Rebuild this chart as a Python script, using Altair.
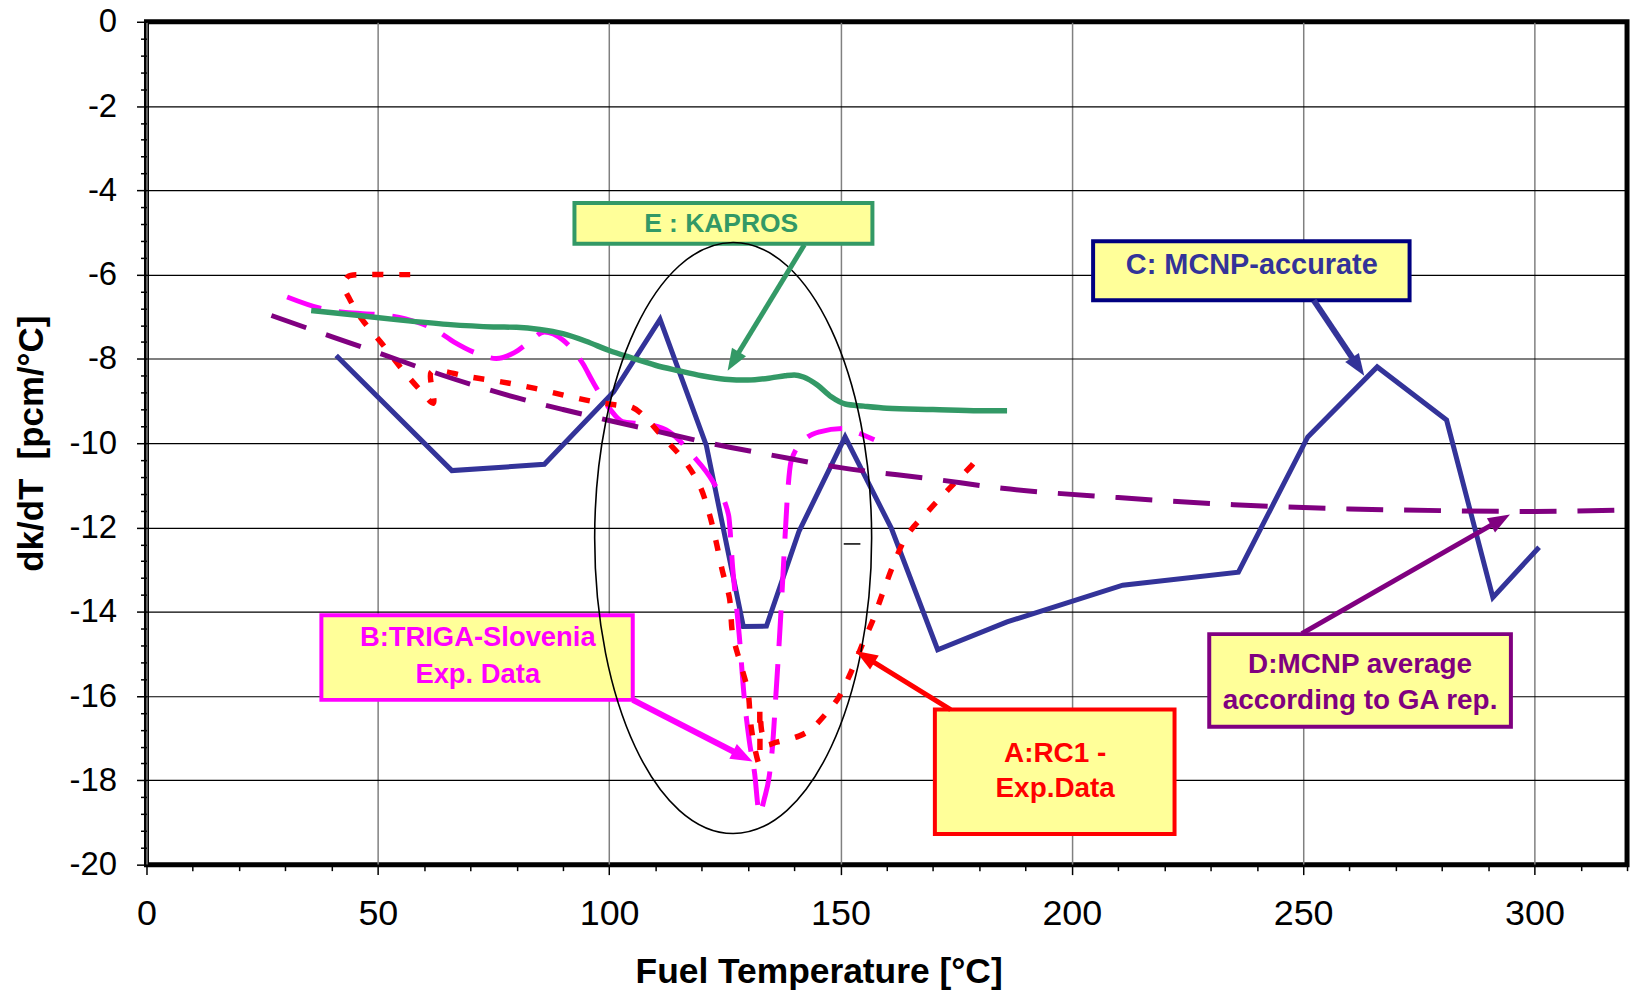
import math
import altair as alt
import pandas as pd

# ---------------- data ----------------
# A: RC1 - Exp. Data (path order, red dotted)
a_x = [57, 52, 47, 43.5, 42.8, 44, 46.5, 51, 55.5, 59.5, 62, 61.5, 63, 70, 77, 84, 91, 97, 102, 105, 107.5,
       111, 116, 119.5, 121.7, 123.1, 124.5, 126, 126.7, 128.3, 130, 130.6, 131.6, 132.4, 132.6, 133, 134,
       136, 141, 143.5, 147, 149.5, 152, 155, 157, 159.5, 162, 164.5, 169.2, 173.9, 178.1, 179.6, 181.6]
a_y = [-6.0, -6.0, -6.0, -6.05, -6.3, -6.6, -7.05, -7.65, -8.28, -8.78, -9.05, -8.32, -8.28, -8.43, -8.55,
       -8.7, -8.88, -9.02, -9.1, -9.15, -9.35, -9.78, -10.38, -10.99, -11.7, -12.33, -13.04, -13.67, -14.54,
       -15.2, -15.9, -16.65, -17.3, -17.6, -16.3, -16.85, -17.15, -17.1, -16.95, -16.8, -16.4, -16.05, -15.5,
       -14.7, -14.2, -13.44, -12.73, -12.17, -11.58, -11.03, -10.56, -10.4, -10.48]

# B: TRIGA-Slovenia Exp. Data (magenta dashed)
b_x = [30.4, 38, 43, 50.4, 56, 62.6, 66.5, 71, 75.6, 79.5, 82.5, 86, 90, 94.3, 96.5, 100.1, 102.9, 105.8,
       108.7, 113, 118, 122.4, 125.8, 126.7, 128.1, 129.2, 130.3, 131.4, 132.5, 133.5, 134.6, 135.3, 136,
       137.1, 137.8, 138.6, 139.3, 141.8, 145.5, 150.5, 154.1, 157.3]
b_y = [-6.53, -6.81, -6.9, -6.95, -7.05, -7.32, -7.6, -7.85, -7.99, -7.85, -7.62, -7.36, -7.55, -8.11, -8.55,
       -9.18, -9.49, -9.53, -9.56, -9.73, -10.28, -10.91, -11.7, -12.96, -14.54, -16.04, -17.07, -17.8,
       -18.8, -18.45, -17.9, -17.2, -16.04, -14.07, -12.65, -11.15, -10.44, -9.96, -9.73, -9.65, -9.77, -9.92]

# C: MCNP-accurate (navy solid)
c_x = [41, 66, 86, 101, 111, 121, 129, 134, 141, 151, 161, 171, 186, 211, 236, 251, 266, 281, 291, 301]
c_y = [-7.92, -10.65, -10.5, -8.78, -7.06, -10.05, -14.35, -14.34, -12.1, -9.85, -12.02, -14.9, -14.24,
       -13.37, -13.06, -9.85, -8.19, -9.45, -13.66, -12.47]

# D: MCNP average according to GA rep. (purple long dash)
d_x = [27, 40, 50, 60, 70, 80, 90, 100, 110, 120, 135, 150, 170, 185, 210, 235, 260, 280, 300, 320]
d_y = [-6.97, -7.47, -7.85, -8.24, -8.6, -8.92, -9.2, -9.46, -9.71, -9.96, -10.28, -10.58, -10.85, -11.07,
       -11.29, -11.46, -11.56, -11.6, -11.62, -11.58]

# E: KAPROS (green solid)
e_x = [35.6, 45, 55, 65, 75, 80, 85, 90, 95, 100, 105, 110, 115, 120, 125, 130, 135, 138, 140, 142, 145,
       148, 151, 155, 160, 170, 180, 186]
e_y = [-6.85, -6.96, -7.08, -7.18, -7.24, -7.25, -7.3, -7.4, -7.58, -7.8, -7.98, -8.15, -8.28, -8.4, -8.48,
       -8.5, -8.45, -8.4, -8.38, -8.43, -8.62, -8.9, -9.07, -9.12, -9.17, -9.2, -9.23, -9.23]

x_major = [0, 50, 100, 150, 200, 250, 300]
y_major = [0, -2, -4, -6, -8, -10, -12, -14, -16, -18, -20]
x_ticks = [v * 10 for v in range(0, 33)]
y_ticks = [round(-0.4 * i, 1) for i in range(0, 51)]

# annotation boxes (data units)
box_names = ["E", "C", "B", "A", "D"]
box_x1 = [92.5, 204.6, 37.8, 170.4, 229.7]
box_x2 = [156.9, 273.0, 105.1, 222.2, 294.9]
box_y1 = [-4.30, -5.21, -14.08, -16.32, -14.53]
box_y2 = [-5.27, -6.61, -16.09, -19.27, -16.73]
box_stroke = ["#339966", "#000080", "#FF00FF", "#FF0000", "#800080"]

text_lines = ["E : KAPROS", "C: MCNP-accurate", "B:TRIGA-Slovenia", "Exp. Data", "A:RC1 -", "Exp.Data",
              "D:MCNP average", "according to GA rep."]
text_x = [124.2, 238.9, 71.6, 71.6, 196.4, 196.4, 262.3, 262.3]
text_y = [-4.80, -5.78, -14.62, -15.50, -17.38, -18.20, -15.27, -16.12]
text_color = ["#339966", "#333399", "#FF00FF", "#FF00FF", "#FF0000", "#FF0000", "#800080", "#800080"]
text_size = [26.5, 29, 27.5, 27.5, 28, 28, 28, 28]

# arrows: tail -> tip (data units)
arr_x0 = [142.2, 252.3, 105.1, 173.8, 249.7]
arr_y0 = [-5.29, -6.61, -16.09, -16.32, -14.52]
arr_x1 = [125.6, 263.2, 131.0, 153.3, 294.7]
arr_y1 = [-8.28, -8.40, -17.55, -14.93, -11.69]
arr_color = ["#339966", "#333399", "#FF00FF", "#FF0000", "#800080"]
arr_width = [5, 6, 6, 5, 5]

# ellipse annotation
ell_cx = [126.8]
ell_cy = [-12.25]

# stray small dash
dash_x1 = [150.7]
dash_x2 = [154.3]
dash_y = [-12.39]

# ---------------- geometry ----------------
W, H = 1486, 846
XMAX = 320
PX = W / XMAX
PY = H / 20.0

def series(xs, ys):
    return pd.DataFrame({"x": xs, "y": ys, "i": list(range(len(xs)))})

df_a = series(a_x, a_y)
df_b = series(b_x, b_y)
df_c = series(c_x, c_y)
df_d = series(d_x, d_y)
df_e = series(e_x, e_y)

rows = []
for x0, y0, x1, y1, col, w in zip(arr_x0, arr_y0, arr_x1, arr_y1, arr_color, arr_width):
    dxp = (x1 - x0) * PX
    dyp = -(y1 - y0) * PY
    L = math.hypot(dxp, dyp)
    ux, uy = dxp / L, dyp / L
    back = 14
    xs = x1 - ux * back / PX
    ys = y1 + uy * back / PY
    ang = math.degrees(math.atan2(ux, -uy)) % 360
    rows.append({"x0": x0, "y0": y0, "xs": xs, "ys": ys, "x1": x1, "y1": y1, "color": col, "w": w, "ang": ang})
df_arr = pd.DataFrame(rows)

df_box = pd.DataFrame({"name": box_names, "x1": box_x1, "x2": box_x2, "y1": box_y1, "y2": box_y2,
                       "stroke": box_stroke})
df_text = pd.DataFrame({"t": text_lines, "x": text_x, "y": text_y, "color": text_color, "size": text_size})
df_ell = pd.DataFrame({"x": ell_cx, "y": ell_cy})
df_dash = pd.DataFrame({"x": dash_x1, "x2": dash_x2, "y": dash_y})

FONT = "Liberation Sans"

xscale = alt.Scale(domain=[0, XMAX], nice=False, zero=False)
yscale = alt.Scale(domain=[-20, 0], nice=False, zero=False)

x_axis = alt.Axis(
    values=x_ticks,
    labelExpr="datum.value % 50 === 0 && datum.value <= 300 ? toString(datum.value) : ''",
    tickSize={"condition": {"test": "datum.value % 50 === 0", "value": 10}, "value": 6},
    gridOpacity={"condition": {"test": "datum.value % 50 === 0 && datum.value < 320", "value": 1}, "value": 0},
    gridColor="#808080", gridWidth=1.5,
    tickColor="black", tickWidth=1.5,
    domain=False, labelFlush=False, labelOverlap=False,
    labelFont=FONT, labelFontSize=36, labelColor="black", labelPadding=22,
    title="Fuel Temperature [°C]", titleFont=FONT, titleFontSize=35.5, titleFontWeight="bold",
    titleColor="black", titleX=674.6, titleY=107, titleAlign="center", titleBaseline="middle",
)
y_axis = alt.Axis(
    values=y_ticks,
    labelExpr="round(datum.value*10) % 20 === 0 ? toString(round(datum.value)) : ''",
    tickSize={"condition": {"test": "round(datum.value*10) % 20 === 0", "value": 10}, "value": 6},
    gridOpacity={"condition": {"test": "round(datum.value*10) % 20 === 0", "value": 1}, "value": 0},
    gridColor="black", gridWidth=1.2,
    tickColor="black", tickWidth=1.5,
    domain=False, labelOverlap=False, labelFlush=False,
    labelFont=FONT, labelFontSize=33, labelColor="black", labelPadding=20,
    title="dk/dT \u00a0[pcm/°C]", titleFont=FONT, titleFontSize=35, titleFontWeight="bold",
    titleColor="black", titleX=-115.5, titleY=H / 2, titleAngle=270, titleAlign="center",
    titleBaseline="middle",
)

def XF(f):
    return alt.X(f, scale=xscale, axis=x_axis)

def YF(f):
    return alt.Y(f, scale=yscale, axis=y_axis)

line_c = alt.Chart(df_c).mark_line(color="#333399", strokeWidth=5, clip=True).encode(
    x=XF("x:Q"), y=YF("y:Q"), order="i:Q")
line_b = alt.Chart(df_b).mark_line(color="#FF00FF", strokeWidth=5, strokeDash=[36, 18],
                                   interpolate="monotone", clip=True).encode(x=XF("x:Q"), y=YF("y:Q"), order="i:Q")
line_a = alt.Chart(df_a).mark_line(color="#FF0000", strokeWidth=5.5, strokeDash=[11, 16],
                                   interpolate="catmull-rom", clip=True).encode(x=XF("x:Q"), y=YF("y:Q"), order="i:Q")
line_d = alt.Chart(df_d).mark_line(color="#800080", strokeWidth=5, strokeDash=[37, 21],
                                   interpolate="monotone", clip=True).encode(x=XF("x:Q"), y=YF("y:Q"), order="i:Q")
line_e = alt.Chart(df_e).mark_line(color="#339966", strokeWidth=5.5, interpolate="monotone",
                                   clip=True).encode(x=XF("x:Q"), y=YF("y:Q"), order="i:Q")

boxes = alt.Chart(df_box).mark_rect(fill="#FFFF99", strokeWidth=4, opacity=1).encode(
    x=XF("x1:Q"), x2="x2:Q",
    y=YF("y1:Q"), y2="y2:Q",
    stroke=alt.Stroke("stroke:N", scale=None),
)
texts = alt.Chart(df_text).mark_text(font=FONT, fontWeight="bold", align="center", baseline="middle").encode(
    x=XF("x:Q"), y=YF("y:Q"), text="t:N",
    color=alt.Color("color:N", scale=None),
    size=alt.Size("size:Q", scale=None),
)
shafts = alt.Chart(df_arr).mark_rule(strokeCap="butt").encode(
    x=XF("x0:Q"), y=YF("y0:Q"),
    x2="xs:Q", y2="ys:Q",
    color=alt.Color("color:N", scale=None),
    strokeWidth=alt.StrokeWidth("w:Q", scale=None),
)
heads = alt.Chart(df_arr).mark_point(
    shape="M 0 0 L 0.75 2 L -0.75 2 Z", filled=True, size=484, opacity=1, strokeWidth=0
).encode(
    x=XF("x1:Q"), y=YF("y1:Q"),
    color=alt.Color("color:N", scale=None),
    angle=alt.Angle("ang:Q", scale=None),
)

a = 139.0 / 296.6
k = 0.5523
ell_path = (f"M 0 -1 C {k*a:.4f} -1 {a:.4f} {-k:.4f} {a:.4f} 0 "
            f"C {a:.4f} {k:.4f} {k*a:.4f} 1 0 1 "
            f"C {-k*a:.4f} 1 {-a:.4f} {k:.4f} {-a:.4f} 0 "
            f"C {-a:.4f} {-k:.4f} {-k*a:.4f} -1 0 -1 Z")
ellipse = alt.Chart(df_ell).mark_point(
    shape=ell_path, filled=False, size=(2 * 296.6) ** 2, color="black", opacity=1, strokeWidth=1.6
).encode(x=XF("x:Q"), y=YF("y:Q"))

stray = alt.Chart(df_dash).mark_rule(color="black", strokeWidth=1.5).encode(
    x=XF("x:Q"), x2="x2:Q", y=YF("y:Q")
)

chart = alt.layer(
    line_c, line_b, line_a, line_d, line_e, stray, boxes, texts, ellipse, shafts, heads
).properties(
    width=W, height=H,
    padding={"left": 139, "top": 12, "right": 8, "bottom": 125},
    autosize=alt.AutoSizeParams(type="none"),
    background="white",
).configure_view(
    stroke="black", strokeWidth=5
)

chart.save("out.html", embed_options={"renderer": "svg", "actions": False})
